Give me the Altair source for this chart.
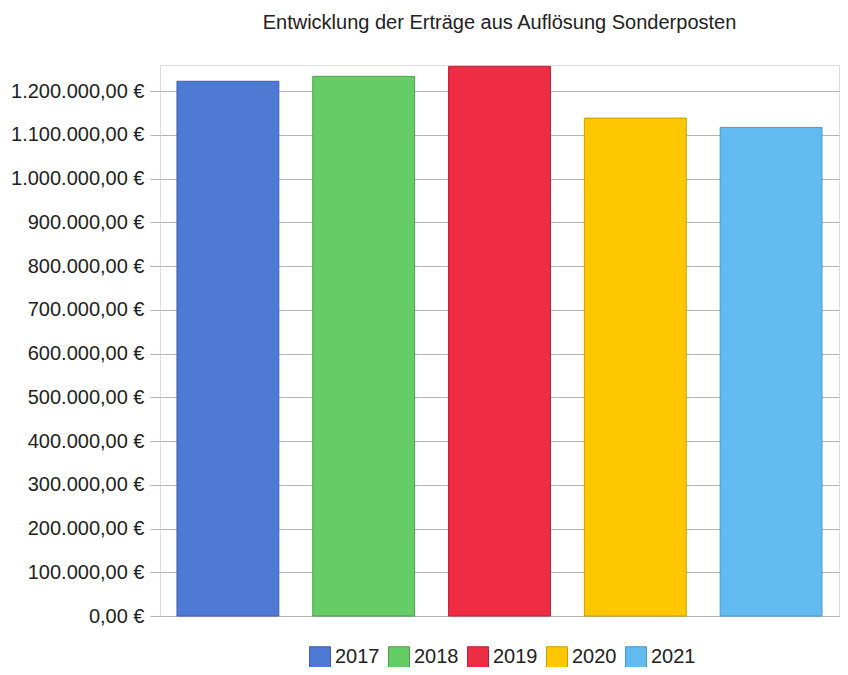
import altair as alt
import pandas as pd

years = ["2017", "2018", "2019", "2020", "2021"]
values = [1222700, 1234000, 1256800, 1138600, 1117300]
fill_colors = ["#4F7AD4", "#66CC66", "#EE2C44", "#FFC700", "#62BBF0"]
stroke_colors = ["#3B5FAE", "#4E9E4E", "#B8223A", "#CC9E00", "#4A98CC"]
y_ticks = [0, 100000, 200000, 300000, 400000, 500000, 600000, 700000,
           800000, 900000, 1000000, 1100000, 1200000]
title_text = "Entwicklung der Erträge aus Auflösung Sonderposten"

df = pd.DataFrame({"Jahr": years, "Wert": values})

FONT = "Liberation Sans"

bars = alt.Chart(df).mark_bar(strokeWidth=1).encode(
    x=alt.X("Jahr:N", sort=years,
            scale=alt.Scale(paddingInner=0.25, paddingOuter=0.125),
            axis=alt.Axis(labels=False, ticks=False, domain=False, title=None, grid=False)),
    y=alt.Y("Wert:Q",
            scale=alt.Scale(domain=[0, 1260000], nice=False),
            axis=alt.Axis(values=y_ticks, format="$,.2f", title=None, domain=False,
                          tickSize=10, tickColor="#b3b3b3", labelPadding=6,
                          gridColor="#b3b3b3", labelFontSize=20, labelFont=FONT,
                          labelColor="#222222")),
    color=alt.Color("Jahr:N", sort=years,
                    scale=alt.Scale(domain=years, range=fill_colors),
                    legend=alt.Legend(title=None, orient="none", direction="horizontal",
                                      legendX=149, legendY=581,
                                      symbolType="square", symbolSize=441,
                                      symbolStrokeWidth=1,
                                      labelFontSize=20, labelFont=FONT, labelColor="#222222",
                                      labelOffset=4, columnPadding=6)),
    stroke=alt.Stroke("Jahr:N", sort=years,
                      scale=alt.Scale(domain=years, range=stroke_colors),
                      legend=None),
).properties(
    width=679,
    height=551,
    title=alt.TitleParams(title_text, font=FONT, fontSize=20, fontWeight="normal",
                          color="#222222", offset=32, anchor="middle"),
    autosize=alt.AutoSizeParams(type="none"),
    padding={"left": 152, "top": 57, "right": 1, "bottom": 51},
).configure_view(
    stroke="#b3b3b3", strokeWidth=1
).configure(background="white")

chart = bars
chart.save("out.html", embed_options={
    "renderer": "svg", "actions": False,
    "formatLocale": {"decimal": ",", "thousands": ".", "grouping": [3],
                     "currency": ["", " €"]}})
